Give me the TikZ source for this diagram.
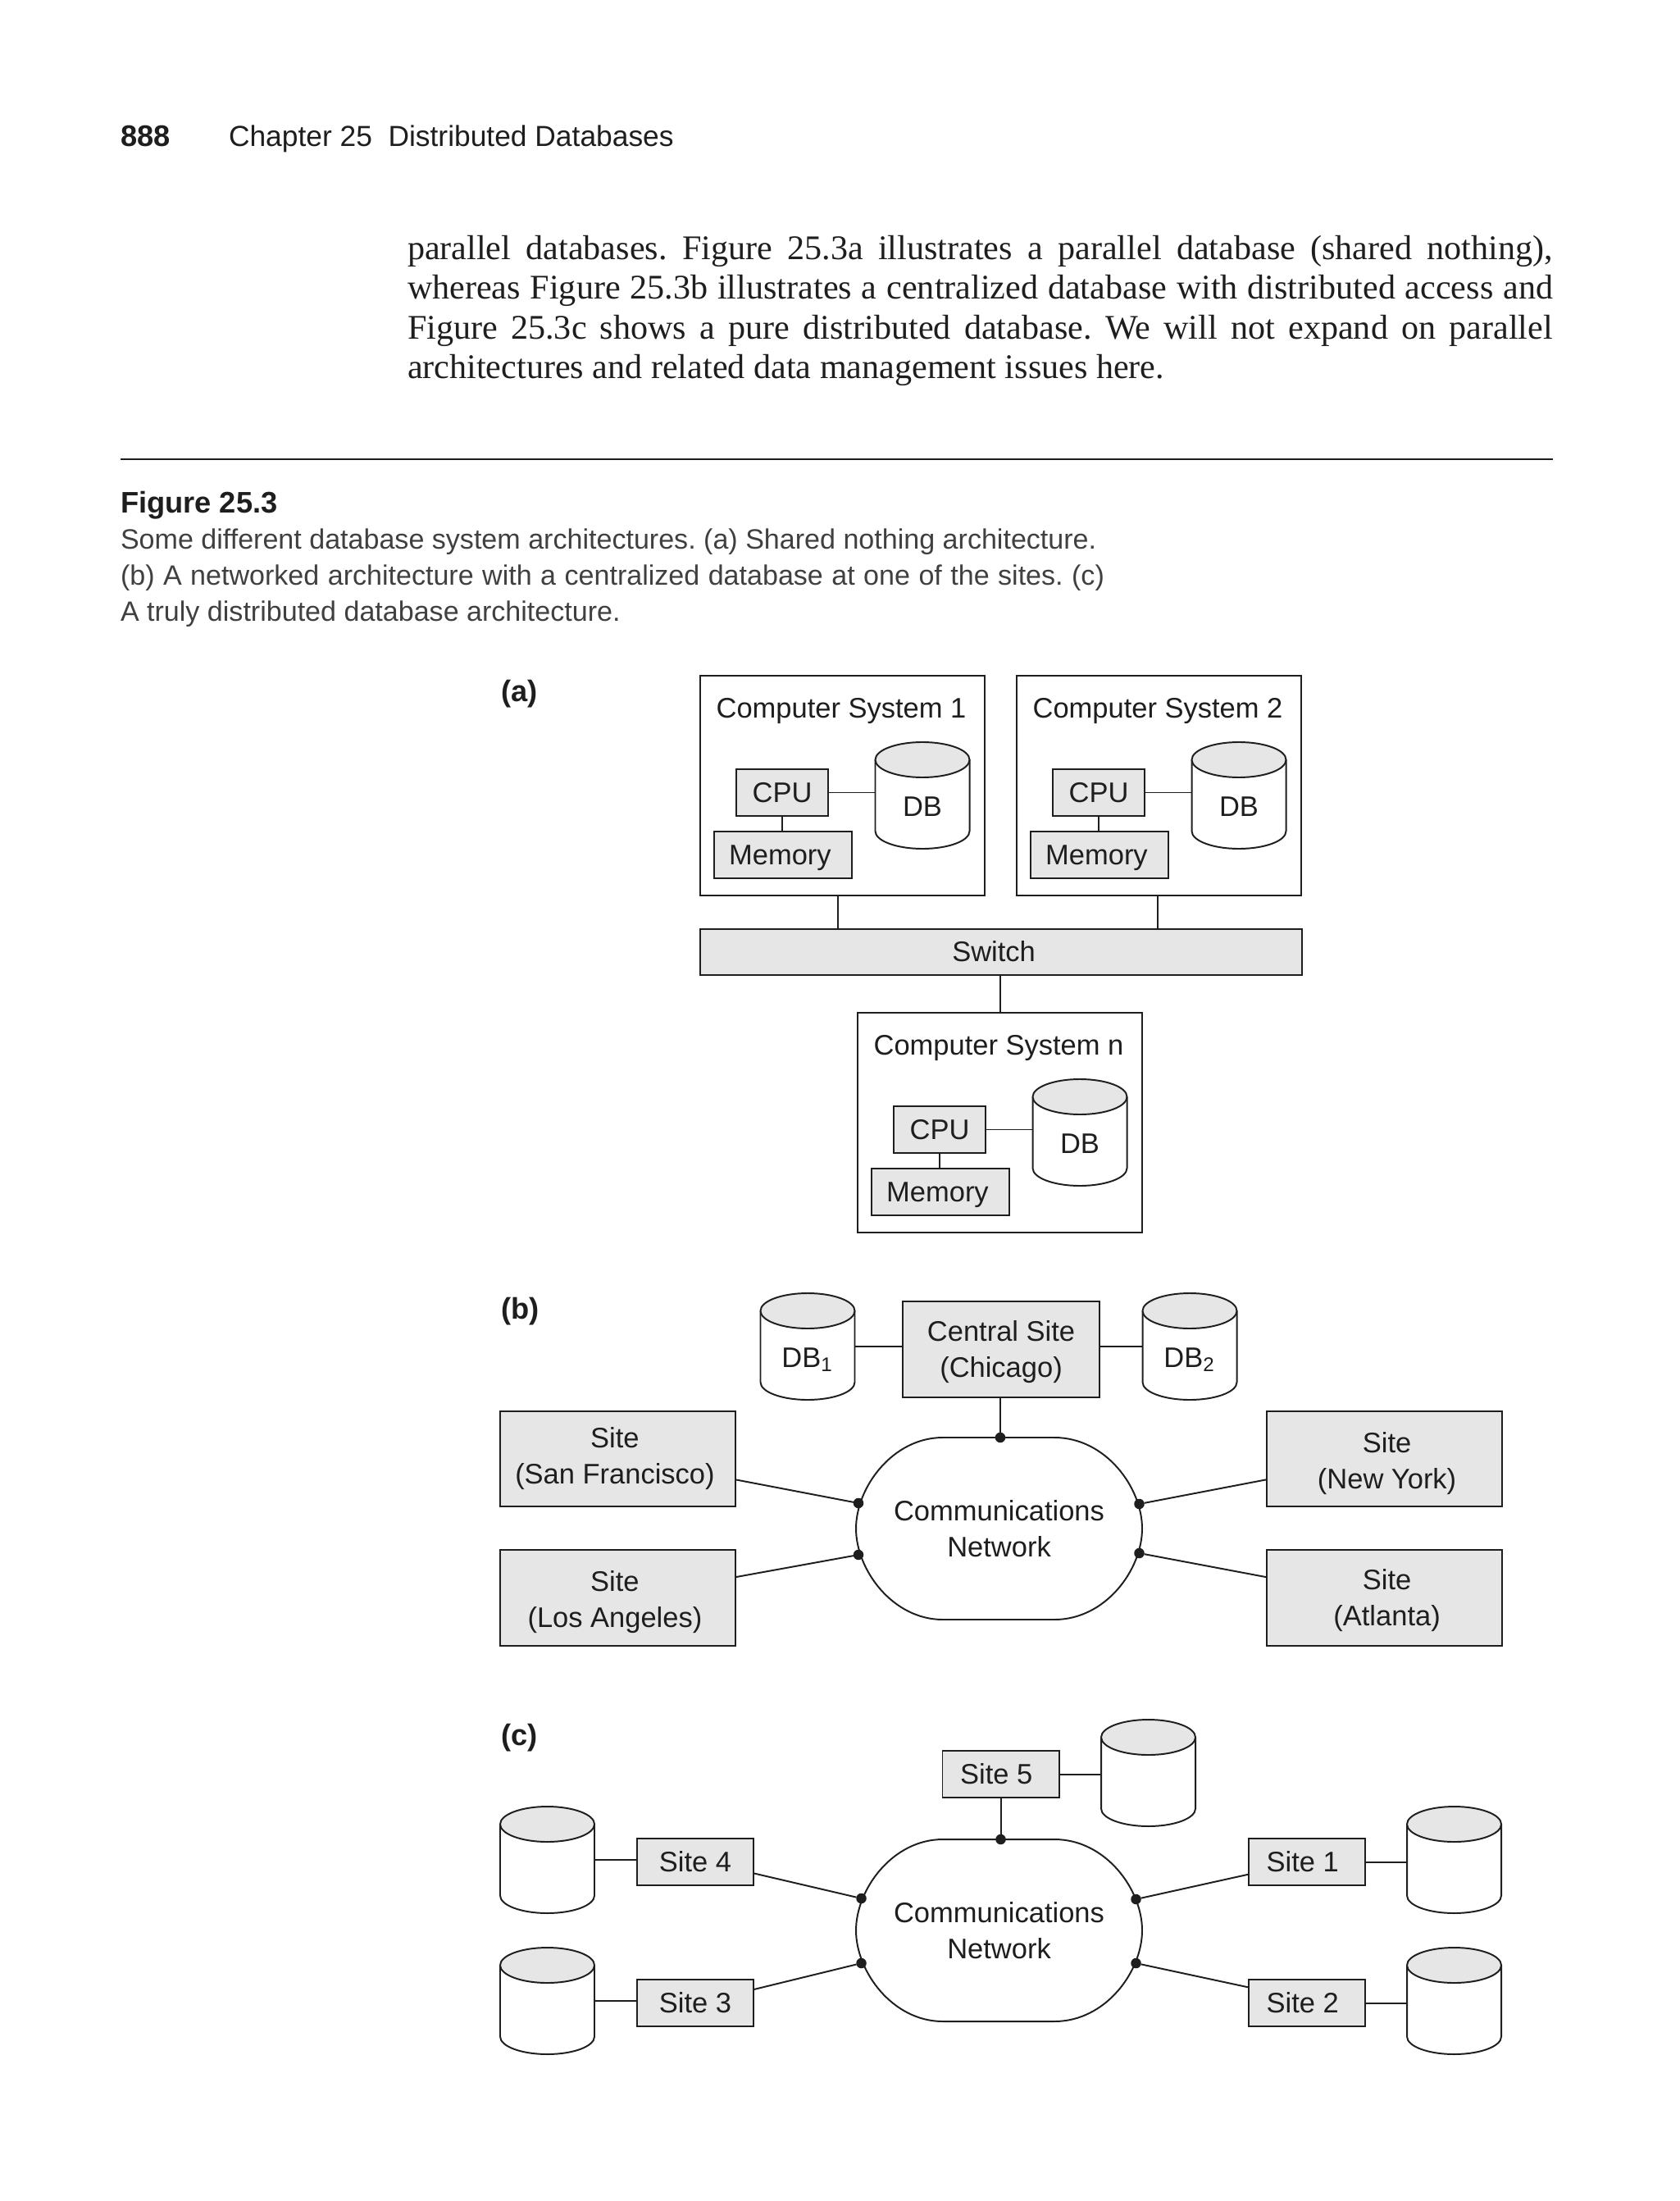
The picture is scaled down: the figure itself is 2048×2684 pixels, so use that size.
\documentclass[tikz,border=0pt]{standalone}
\usepackage{fontspec}
\setmainfont{Liberation Sans}
\newfontfamily\bookfont{Liberation Serif}
\usepackage{xcolor}
\usepackage{tikz}
\usetikzlibrary{positioning,shapes.geometric,calc}
\definecolor{boxgray}{HTML}{E6E6E6}
\definecolor{ink}{HTML}{1E1E1E}
\newcommand{\pxu}{0.28125pt}
\newcommand{\bodyline}[1]{\makebox[392.9pt][s]{#1}}
\newcommand{\lowered}[1]{\rule{0pt}{#1}}
\newcommand{\gapr}{\hspace*{2pt}}
\tikzset{
  every node/.style={text=ink,font=\fontsize{9.7}{12.4}\selectfont,align=center,inner sep=0pt,outer sep=0pt},
  wire/.style={draw=ink,line width=0.55pt},
  sized/.style 2 args={minimum width=#1*\pxu,minimum height=#2*\pxu},
  oneline/.style={text height=6.5pt,text depth=0pt},
  graybox/.style={draw=ink,fill=boxgray,line width=0.55pt},
  whitebox/.style={draw=ink,fill=white,line width=0.55pt},
  netdot/.style={circle,fill=ink,minimum size=12.5*\pxu},
  panel/.style={anchor=west,font=\fontsize{10.2}{12.4}\selectfont\bfseries}
}
\newcommand{\dbdrum}[4]{
\begin{scope}[shift={(#3,#4)}]
\node[sized={115}{130}] (#1) at (0,0) {};
\draw[wire,fill=white] (-57.5,-43.5) -- (-57.5,43.5) arc (180:0:57.5 and 21.5) -- (57.5,-43.5);
\draw[wire,fill=boxgray] (0,-43.5) ellipse (57.5 and 21.5);
\node[oneline] (#1text) at (0,14) {#2};
\end{scope}
}
\newcommand{\compsys}[4]{
\begin{scope}[shift={(#3,#4)}]
\node[whitebox,sized={347}{268}] (#1) at (173.5,134) {};
\node[oneline] (#1title) at (172,40) {#2};
\node[graybox,oneline,sized={112}{57}] (#1cpu) at (100,142.5) {CPU};
\node[graybox,oneline,sized={168}{57}] (#1mem) at (101,218.5) {Memory\gapr};
\dbdrum{#1db}{DB}{271}{146}
\draw[wire] (#1cpu.east) -- (#1cpu.east -| #1db.west);
\draw[wire] (#1cpu.south) -- (#1cpu.south |- #1mem.north);
\end{scope}
}
\newcommand{\commnet}[3]{
\begin{scope}[shift={(#2,#3)}]
\draw[wire,fill=white] (-68.5,-111) -- (67.5,-111) .. controls (130,-111) and (174.5,-50) .. (174.5,0) .. controls (174.5,50) and (130,111) .. (67.5,111) -- (-68.5,111) .. controls (-130,111) and (-174.5,50) .. (-174.5,0) .. controls (-174.5,-50) and (-130,-111) .. (-68.5,-111) -- cycle;
\node (#1) at (0,0) {Communications\\Network};
\end{scope}
}

\begin{document}
\frenchspacing
\begin{tikzpicture}[x=0.28125pt,y=-0.28125pt]
\useasboundingbox (0,0) rectangle (2048,2684);

\node[panel] (pageno) at (147,166) {888};
\node[anchor=west,font=\fontsize{9.95}{12.4}\selectfont] (runhead) at (279,169) {Chapter 25\hspace{5.5pt}Distributed Databases};
\node[anchor=west,align=left,font=\bookfont\fontsize{11.85}{13.65}\selectfont] (bodytext) at (497,379) {%
\bodyline{parallel databases. Figure 25.3a illustrates a parallel database (shared nothing),}\\
\bodyline{whereas Figure 25.3b illustrates a centralized database with distributed access and}\\
\bodyline{Figure 25.3c shows a pure distributed database. We will not expand on parallel}\\
architectures and related data management issues here.};
\draw[ink,line width=0.7pt] (147,560) -- (1894,560);
\node[panel] (figtitle) at (147,616) {Figure 25.3};
\node[anchor=west,align=left,text=ink!85,font=\fontsize{9.58}{12.4}\selectfont] (figcaption) at (147,705) {Some different database system architectures. (a) Shared nothing architecture.\\
\makebox[337.5pt][s]{(b) A networked architecture with a centralized database at one of the sites. (c)}\\
A truly distributed database architecture.};

% (a)
\node[panel] (labela) at (611,846) {(a)};
\compsys{csa}{Computer System 1}{854}{824}
\compsys{csb}{Computer System 2}{1240}{824}
\compsys{csn}{Computer System n}{1046}{1235}
\node[graybox,oneline,sized={734}{56}] (switch) at (1221,1161) {Switch\hspace*{5pt}};
\draw[wire] (csa.south -| 1022,0) -- (switch.north -| 1022,0);
\draw[wire] (csb.south -| 1412,0) -- (switch.north -| 1412,0);
\draw[wire] (switch.south -| csn.north) -- (csn.north);

% (b)
\node[panel] (labelb) at (611,1599) {(b)};
\node[graybox,sized={240}{117}] (central) at (1221,1645.5) {\lowered{9pt}Central Site\\(Chicago)};
\dbdrum{dbone}{DB\textsubscript{1}}{985}{1642}
\dbdrum{dbtwo}{DB\textsubscript{2}}{1451}{1642}
\draw[wire] (dbone.east) -- (dbone.east -| central.west);
\draw[wire] (central.east |- dbtwo.west) -- (dbtwo.west);
\node[graybox,sized={287}{116.5}] (sf) at (753.5,1779) {Site\gapr\\(San Francisco)\gapr};
\node[graybox,sized={287}{116.5}] (la) at (753.5,1948.5) {\lowered{10pt}Site\gapr\\(Los Angeles)\gapr};
\node[graybox,sized={287}{116.5}] (ny) at (1688,1779) {\lowered{10pt}\gapr Site\\\gapr(New York)};
\node[graybox,sized={287}{116.5}] (atl) at (1688,1948.5) {\lowered{9pt}\gapr Site\\\gapr(Atlanta)};
\commnet{netb}{1218.5}{1864}
\node[netdot] (bdottop) at (1220,1753) {};
\node[netdot] (bdotsf) at (1047,1833) {};
\node[netdot] (bdotla) at (1047,1896) {};
\node[netdot] (bdotny) at (1389.5,1834) {};
\node[netdot] (bdotatl) at (1389.5,1894) {};
\draw[wire] (central.south -| bdottop) -- (bdottop);
\draw[wire] (sf.-10.7) -- (bdotsf); \draw[wire] (la.10.1) -- (bdotla);
\draw[wire] (ny.190.7) -- (bdotny); \draw[wire] (atl.170) -- (bdotatl);

% (c)
\node[panel] (labelc) at (611,2119) {(c)};
\node[graybox,oneline,sized={142}{57}] (sitefive) at (1220.5,2163.5) {Site 5\hspace*{3pt}};
\node[graybox,oneline,sized={142}{57}] (sitefour) at (848,2270.5) {Site 4};
\node[graybox,oneline,sized={142}{57}] (sitethree) at (848,2442.5) {Site 3};
\node[graybox,oneline,sized={142}{57}] (siteone) at (1594,2270.5) {Site 1\hspace*{3pt}};
\node[graybox,oneline,sized={142}{57}] (sitetwo) at (1594,2442.5) {Site 2\hspace*{3pt}};
\dbdrum{dbfive}{}{1400.5}{2162}
\dbdrum{dbfour}{}{667.5}{2268}
\dbdrum{dbthree}{}{667.5}{2440}
\dbdrum{dbsone}{}{1773.5}{2268}
\dbdrum{dbstwo}{}{1773.5}{2440}
\draw[wire] (sitefive.east) -- (sitefive.east -| dbfive.west);
\draw[wire] (dbfour.east) -- (dbfour.east -| sitefour.west);
\draw[wire] (dbthree.east) -- (dbthree.east -| sitethree.west);
\draw[wire] (siteone.east) -- (siteone.east -| dbsone.west);
\draw[wire] (sitetwo.east) -- (sitetwo.east -| dbstwo.west);
\commnet{netc}{1218.5}{2354}
\node[netdot] (cdottop) at (1220.5,2243) {};
\node[netdot] (cdotfour) at (1050.5,2315) {};
\node[netdot] (cdotthree) at (1050.5,2394) {};
\node[netdot] (cdotone) at (1385.5,2316) {};
\node[netdot] (cdottwo) at (1385.5,2394) {};
\draw[wire] (sitefive.south) -- (cdottop);
\draw[wire] (sitefour.-11.5) -- (cdotfour); \draw[wire] (sitethree.13.1) -- (cdotthree);
\draw[wire] (siteone.192.3) -- (cdotone); \draw[wire] (sitetwo.165.4) -- (cdottwo);
\end{tikzpicture}
\end{document}
